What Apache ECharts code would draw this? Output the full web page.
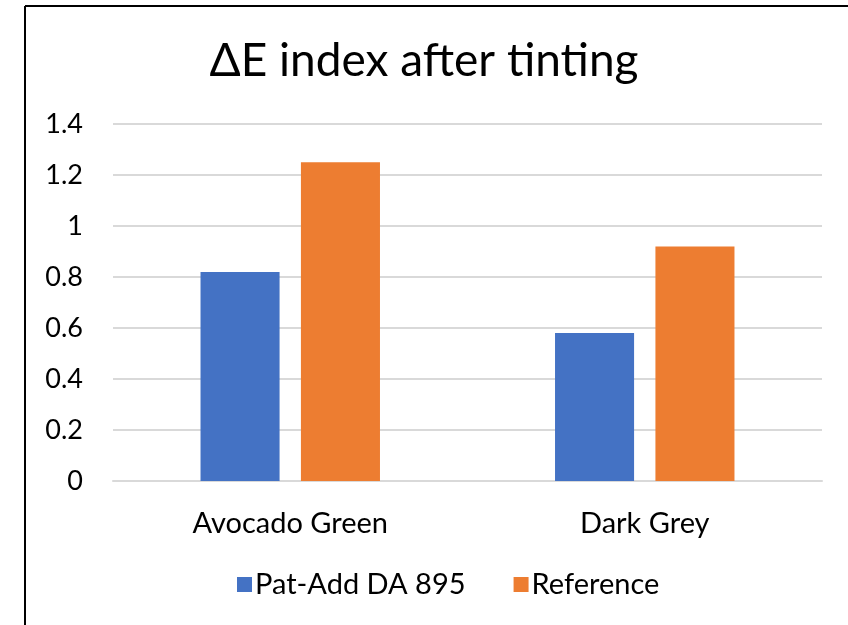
<!DOCTYPE html>
<html><head><meta charset="utf-8">
<script src="https://cdn.jsdelivr.net/npm/echarts@6/dist/echarts.min.js"></script>
<style>html,body{margin:0;padding:0;background:#fff}#c{width:848px;height:625px}</style>
</head><body><div id="c"></div>
<script>
const categories = ['Avocado Green', 'Dark Grey'];
const seriesNames = ['Pat-Add DA 895', 'Reference'];
const patAdd = [0.82, 0.58];
const reference = [1.25, 0.92];
const yTicks = [0, 0.2, 0.4, 0.6, 0.8, 1, 1.2, 1.4];

const FONT = 'Lato';
const chart = echarts.init(document.getElementById('c'));
chart.setOption({
  animation: false,
  backgroundColor: '#fff',
  title: {
    text: 'ΔE index after tinting', left: 'center', top: 33,
    textStyle: { fontFamily: FONT, fontSize: 46, fontWeight: 'normal', color: '#000' }
  },
  graphic: [
    { type: 'line', shape: { x1: 25, y1: 6, x2: 848, y2: 6 }, style: { stroke: '#000', lineWidth: 2 } },
    { type: 'line', shape: { x1: 25, y1: 6, x2: 25, y2: 625 }, style: { stroke: '#000', lineWidth: 2 } }
  ],
  legend: {
    data: seriesNames, bottom: 21, left: 232, itemWidth: 15, itemHeight: 15, itemGap: 48,
    icon: 'rect',
    textStyle: { fontFamily: FONT, fontSize: 29, color: '#000', padding: [0, 0, 0, -2] }
  },
  grid: { left: 113, right: 26, top: 124, bottom: 144, containLabel: false },
  xAxis: {
    type: 'category', data: categories,
    axisLine: { lineStyle: { color: '#d9d9d9', width: 2 } },
    axisTick: { show: false },
    axisLabel: { fontFamily: FONT, fontSize: 29, color: '#000', margin: 28 }
  },
  yAxis: {
    type: 'value', min: yTicks[0], max: yTicks[yTicks.length - 1], interval: 0.2,
    axisLine: { show: false }, axisTick: { show: false },
    splitLine: { lineStyle: { color: '#d9d9d9', width: 2 } },
    axisLabel: { fontFamily: FONT, fontSize: 27, color: '#000', margin: 30,
      formatter: v => String(Math.round(v * 10) / 10) }
  },
  series: [
    { name: seriesNames[0], type: 'bar', data: patAdd, barWidth: '22.3%', barGap: '27%',
      itemStyle: { color: '#4472c4' } },
    { name: seriesNames[1], type: 'bar', data: reference, barWidth: '22.3%', barGap: '27%',
      itemStyle: { color: '#ed7d31' } }
  ]
});
</script></body></html>
